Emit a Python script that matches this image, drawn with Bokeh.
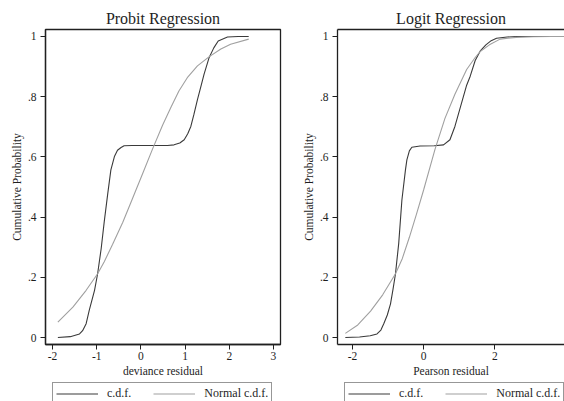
from bokeh.plotting import figure
from bokeh.models import Legend, LegendItem, FixedTicker, Range1d, LinearAxis
from bokeh.layouts import row, column
from bokeh.embed import file_html
from bokeh.resources import INLINE

# ---------------- data ----------------
probit_x = [-1.88, -1.60, -1.39, -1.32, -1.24, -1.17, -1.05, -0.98, -0.90, -0.83, -0.75, -0.68,
            -0.60, -0.53, -0.45, -0.38, -0.20, 0.20, 0.60, 0.75, 0.88, 0.98, 1.06, 1.13, 1.20,
            1.28, 1.36, 1.43, 1.54, 1.65, 1.75, 1.96, 2.20, 2.44]
probit_cdf = [0.000, 0.003, 0.012, 0.023, 0.046, 0.090, 0.157, 0.212, 0.295, 0.385, 0.479, 0.557,
              0.601, 0.622, 0.631, 0.637, 0.638, 0.638, 0.638, 0.640, 0.646, 0.657, 0.677, 0.701,
              0.741, 0.790, 0.835, 0.875, 0.928, 0.962, 0.985, 0.998, 1.000, 1.000]
probit_nx = [-1.88, -1.54, -1.24, -0.98, -0.83, -0.64, -0.41, -0.19, 0.04, 0.26, 0.49, 0.68,
             0.86, 1.05, 1.28, 1.54, 1.81, 2.03, 2.44]
probit_ncdf = [0.051, 0.101, 0.157, 0.212, 0.252, 0.310, 0.383, 0.462, 0.545, 0.625, 0.705, 0.765,
               0.819, 0.863, 0.902, 0.932, 0.958, 0.974, 0.991]

logit_x = [-2.20, -1.80, -1.50, -1.31, -1.20, -1.12, -1.02, -0.93, -0.86, -0.79, -0.75, -0.70,
           -0.61, -0.51, -0.47, -0.40, -0.33, -0.10, 0.30, 0.56, 0.74, 0.88, 1.07, 1.21, 1.31,
           1.45, 1.60, 1.75, 1.90, 2.05, 2.35, 2.62, 3.20, 4.20]
logit_cdf = [0.000, 0.002, 0.006, 0.012, 0.025, 0.046, 0.075, 0.112, 0.160, 0.212, 0.257, 0.312,
             0.457, 0.557, 0.590, 0.620, 0.632, 0.636, 0.637, 0.640, 0.657, 0.701, 0.780, 0.838,
             0.868, 0.920, 0.953, 0.972, 0.986, 0.994, 0.998, 1.000, 1.000, 1.000]
logit_nx = [-2.20, -1.85, -1.49, -1.15, -0.79, -0.60, -0.40, -0.20, 0.00, 0.32, 0.60, 0.88,
            1.21, 1.45, 1.59, 1.85, 2.15, 2.60, 3.08, 3.60, 4.20]
logit_ncdf = [0.014, 0.042, 0.088, 0.142, 0.212, 0.262, 0.333, 0.410, 0.490, 0.625, 0.728, 0.808,
              0.890, 0.930, 0.950, 0.972, 0.991, 0.997, 0.999, 1.000, 1.000]

y_ticks = [0, 0.2, 0.4, 0.6, 0.8, 1]
y_tick_labels = ["0", ".2", ".4", ".6", ".8", "1"]
probit_xticks = [-2, -1, 0, 1, 2, 3]
probit_xtick_labels = ["-2", "-1", "0", "1", "2", "3"]
logit_xticks = [-2, 0, 2, 4]
logit_xtick_labels = ["-2", "0", "2", "4"]

series_labels = ["c.d.f.", "Normal c.d.f."]

# ---------------- style ----------------
FONT = "Liberation Serif"
DARK = "#3a3a3a"
GRAY = "#a0a0a0"
INK = "#1e1e1e"
FRAME = "#202020"
W = 282
H_MAIN = 382
H_LEG = 19


def make_panel(title, xlabel, xr, xticks, xlabels, min_left, min_right, box,
               x1, y1, x2, y2):
    p = figure(width=W, height=H_MAIN, x_range=Range1d(*xr), y_range=Range1d(-0.023, 1.023),
               output_backend="svg", toolbar_location=None, title=title,
               min_border_left=min_left, min_border_right=min_right,
               min_border_top=29, min_border_bottom=38)
    xa = p.below[0]
    ya = p.left[0]
    p.background_fill_color = "white"
    p.border_fill_color = "white"
    p.grid.visible = False
    if box:
        p.outline_line_color = FRAME
        p.outline_line_width = 1.3
    else:
        p.outline_line_color = None
        top = LinearAxis(ticker=FixedTicker(ticks=[]), axis_line_color=FRAME,
                         axis_line_width=1.3, major_tick_line_color=None,
                         minor_tick_line_color=None, major_tick_out=0, major_tick_in=0,
                         major_label_standoff=0, major_label_text_font_size="0px")
        p.add_layout(top, "above")

    p.title.text_font = FONT
    p.title.text_font_size = "16px"
    p.title.text_font_style = "normal"
    p.title.text_color = INK
    p.title.align = "center"
    p.title.standoff = 6

    for ax in (xa, ya):
        ax.axis_line_color = FRAME
        ax.axis_line_width = 1.3
        ax.major_tick_line_color = FRAME
        ax.major_tick_out = 5
        ax.major_tick_in = 0
        ax.minor_tick_line_color = None
        ax.major_label_text_font = FONT
        ax.major_label_text_font_size = "11.5px"
        ax.major_label_text_color = INK
        ax.axis_label_text_font = FONT
        ax.axis_label_text_font_size = "11.5px"
        ax.axis_label_text_font_style = "normal"
        ax.axis_label_text_color = INK

    xa.ticker = FixedTicker(ticks=xticks)
    xa.major_label_overrides = dict(zip(xticks, xlabels))
    xa.axis_label = xlabel
    xa.major_label_standoff = 2
    xa.axis_label_standoff = 2

    ya.ticker = FixedTicker(ticks=y_ticks)
    ya.major_label_overrides = dict(zip(y_ticks, y_tick_labels))
    ya.axis_label = "Cumulative Probability"
    ya.major_label_standoff = 4
    ya.axis_label_standoff = 2

    p.line(x1, y1, line_color=DARK, line_width=1.1)
    p.line(x2, y2, line_color=GRAY, line_width=1.1)

    # legend strip below the panel (cut at the page bottom, as in the reference)
    q = figure(width=W, height=H_LEG, x_range=Range1d(*xr), y_range=Range1d(-0.023, 1.023),
               output_backend="svg", toolbar_location=None,
               x_axis_location=None, y_axis_location=None,
               min_border_left=min_left, min_border_right=min_right,
               min_border_top=0, min_border_bottom=0)
    q.outline_line_color = None
    q.grid.visible = False
    q.background_fill_color = "white"
    q.border_fill_color = "white"
    l1 = q.line(x1, y1, line_color=DARK, line_width=1.1, visible=False)
    l2 = q.line(x2, y2, line_color=GRAY, line_width=1.1, visible=False)
    legend = Legend(items=[LegendItem(label=series_labels[0], renderers=[l1]),
                           LegendItem(label=series_labels[1], renderers=[l2])],
                    location=(7, -4), orientation="horizontal",
                    border_line_color="#303030", border_line_width=1.3,
                    background_fill_color="white", background_fill_alpha=1,
                    label_text_font=FONT, label_text_font_size="12px", label_text_color=INK,
                    glyph_width=42, glyph_height=13, label_height=13,
                    label_standoff=9, spacing=22, padding=3, margin=0)
    q.add_layout(legend)
    return column(p, q)


left = make_panel("Probit Regression", "deviance residual", (-2.16, 3.16),
                  probit_xticks, probit_xtick_labels, 45, 2, True,
                  probit_x, probit_cdf, probit_nx, probit_ncdf)
right = make_panel("Logit Regression", "Pearson residual", (-2.42, 3.96),
                   logit_xticks, logit_xtick_labels, 55, 0, False,
                   logit_x, logit_cdf, logit_nx, logit_ncdf)

layout = row(left, right)
open("out.html", "w").write(file_html(layout, INLINE))
